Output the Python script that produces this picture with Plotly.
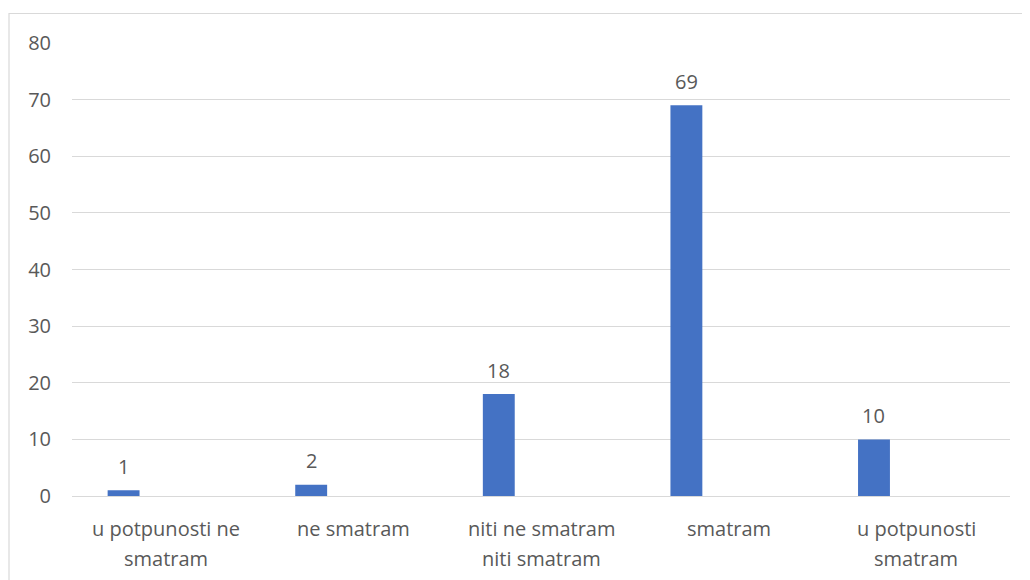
import plotly.graph_objects as go

categories = ["u potpunosti ne smatram", "ne smatram", "niti ne smatram niti smatram", "smatram", "u potpunosti smatram"]
label_lines = [["u potpunosti ne", "smatram"], ["ne smatram"], ["niti ne smatram", "niti smatram"], ["smatram"], ["u potpunosti", "smatram"]]
values = [1, 2, 18, 69, 10]
y_ticks = [0, 10, 20, 30, 40, 50, 60, 70, 80]

FONT = "Open Sans"
TXT = "#595959"
GRID = "#d9d9d9"
BAR = "#4472c4"
FS = 20

BAR_W = 0.17
BAR_OFF = -0.31
CAT_PX = 938 / 5

fig = go.Figure()
fig.add_trace(go.Bar(
    x=categories, y=values, width=BAR_W, offset=BAR_OFF,
    marker=dict(color=BAR, line=dict(width=0)), hoverinfo="x+y",
))

ann = []
for c, v in zip(categories, values):
    ann.append(dict(x=c, y=v, xref="x", yref="y", text=str(v), showarrow=False,
                    xshift=(BAR_OFF + BAR_W / 2) * CAT_PX, yshift=24, yanchor="middle",
                    font=dict(family=FONT, size=FS, color=TXT)))
for c, lines in zip(categories, label_lines):
    for i, ln in enumerate(lines):
        ann.append(dict(x=c, y=0, xref="x", yref="y", text=ln, showarrow=False,
                        yshift=-32 - 30 * i, yanchor="middle",
                        font=dict(family=FONT, size=FS, color=TXT)))

fig.update_layout(
    width=1030, height=580,
    margin=dict(l=64, r=28, t=35, b=92),
    paper_bgcolor="white", plot_bgcolor="white",
    showlegend=False,
    font=dict(family=FONT, size=FS, color=TXT),
    annotations=ann,
    xaxis=dict(type="category", showticklabels=False, showgrid=False, zeroline=False,
               showline=False, ticks="", range=[-0.5, 4.5]),
    yaxis=dict(range=[0, 80], tickvals=y_ticks, showgrid=True, gridcolor=GRID, gridwidth=1,
               zeroline=True, zerolinecolor=GRID, zerolinewidth=1, showline=False, ticks="",
               ticklabelstandoff=20, tickfont=dict(family=FONT, size=FS, color=TXT)),
    shapes=[dict(type="rect", xref="paper", yref="paper",
                 x0=(9 - 72) / 938, x1=1.05, y0=-0.5, y1=(496 - 13.5) / 453,
                 line=dict(color=GRID, width=1.2), fillcolor="rgba(0,0,0,0)", layer="below")],
)

fig.write_html("out.html")
